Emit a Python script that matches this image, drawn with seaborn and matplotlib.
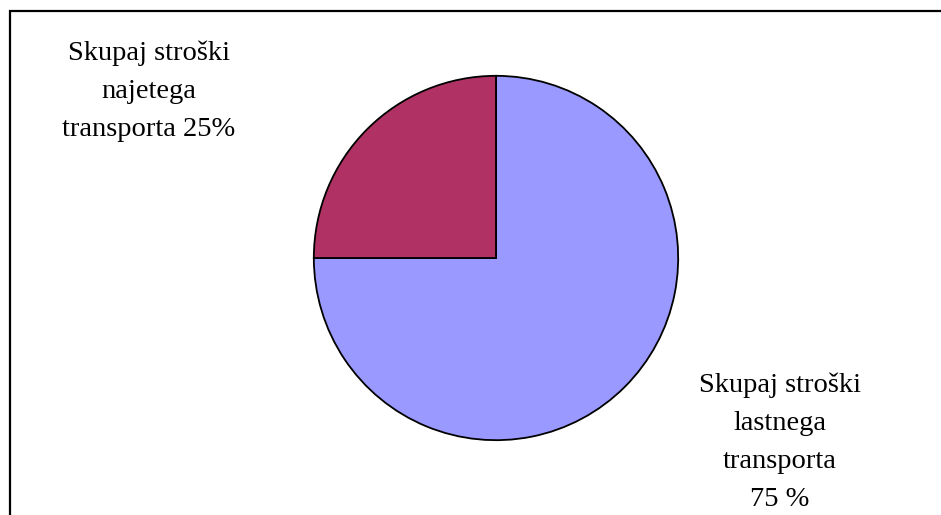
import matplotlib
matplotlib.use("Agg")
import matplotlib.pyplot as plt
import seaborn as sns
from matplotlib.patches import Rectangle

# data
labels = ["Skupaj stroški\nlastnega\ntransporta\n75 %", "Skupaj stroški\nnajetega\ntransporta 25%"]
shares = [75, 25]
colors = ["#9999FF", "#B03164"]

sns.set_theme(style="white")
plt.rcParams['font.family'] = ['Liberation Serif', 'DejaVu Serif']

W, H = 941, 515
fig = plt.figure(figsize=(W / 100, H / 100), dpi=100)

# pie centre and radius in pixels
cx, cy, r = 496, 258, 184
ax = fig.add_axes([(cx - r) / W, (H - cy - r) / H, 2 * r / W, 2 * r / H])
ax.pie(shares, colors=colors, startangle=90, counterclock=False,
       wedgeprops=dict(edgecolor="black", linewidth=1.3))
ax.set_xlim(-1.01, 1.01)
ax.set_ylim(-1.01, 1.01)
ax.set_aspect("equal")
ax.axis("off")

# outside labels
fig.text(780 / W, 1 - 442 / H, labels[0], ha="center", va="center",
         fontsize=20.5, linespacing=1.68, color="black")
fig.text(149 / W, 1 - 91 / H, labels[1], ha="center", va="center",
         fontsize=20.5, linespacing=1.68, color="black")

# chart-area frame (cut by image edges at right and bottom)
fig.patches.append(Rectangle((9.5 / W, -0.1), 1.2, 1.1 - 11.5 / H,
                             transform=fig.transFigure, fill=False,
                             edgecolor="black", linewidth=1.6))

fig.savefig("out.png", dpi=100, facecolor="white")
